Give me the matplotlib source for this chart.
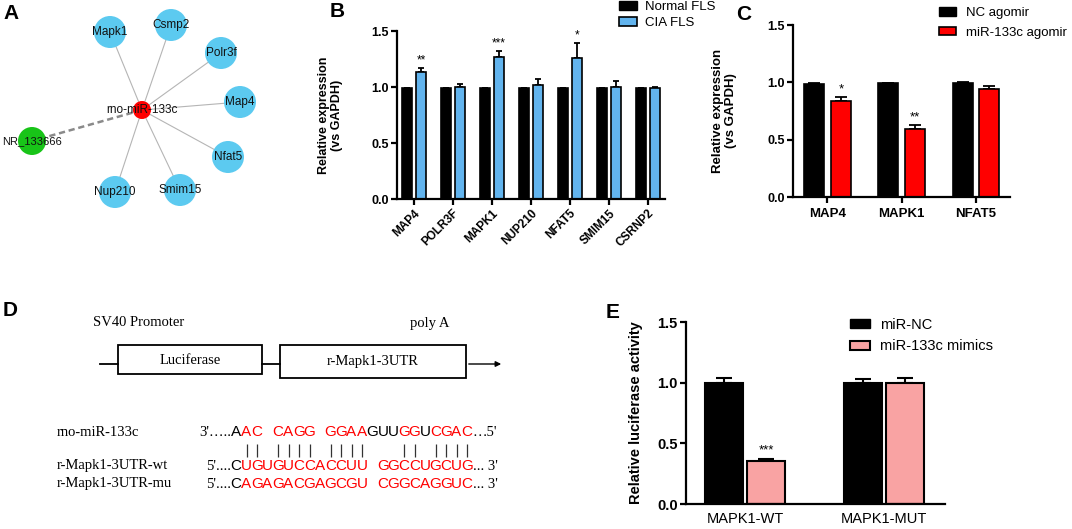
import numpy as np
import matplotlib.pyplot as plt
from matplotlib.patches import Circle, Rectangle, Patch
from matplotlib.ticker import FormatStrFormatter

plt.rcParams['font.family'] = ['Liberation Sans', 'DejaVu Sans']

# ---- panel A: network ----
hub_name = "rno-miR-133c"
lnc_name = "NR_133666"
targets = ["Mapk1", "Csmp2", "Polr3f", "Map4", "Nfat5", "Smim15", "Nup210"]
target_x = [110, 171, 221, 240, 228, 180, 115]
target_y = [32, 25, 53, 102, 157, 190, 192]
hub_xy = (142, 110)
lnc_xy = (32, 141)

# ---- panel B ----
b_genes = ["MAP4", "POLR3F", "MAPK1", "NUP210", "NFAT5", "SMIM15", "CSRNP2"]
b_normal = [0.99, 0.99, 0.99, 0.99, 0.99, 0.99, 0.99]
b_normal_err = [0.005, 0.005, 0.005, 0.005, 0.005, 0.005, 0.005]
b_cia = [1.13, 1.00, 1.27, 1.02, 1.26, 1.00, 0.99]
b_cia_err = [0.04, 0.03, 0.05, 0.05, 0.13, 0.05, 0.01]
b_stars = ["**", "", "***", "", "*", "", ""]

# ---- panel C ----
c_genes = ["MAP4", "MAPK1", "NFAT5"]
c_nc = [0.985, 0.99, 0.995]
c_nc_err = [0.005, 0.005, 0.005]
c_ago = [0.835, 0.595, 0.945]
c_ago_err = [0.035, 0.035, 0.025]
c_stars = ["*", "**", ""]

# ---- panel D: sequences ----
mir_seq = "AAC CAGG GGAAGUUGGUCGAC"
mir_black = [0, 13, 14, 15, 18]
wt_seq = "CUGUGUCCACCUU GGCCUGCUG"
mu_seq = "CAGAGACGAGCGU CGGCAGGUC"
pair_slots = [1, 2, 4, 5, 6, 7, 9, 10, 11, 12, 16, 17, 19, 20, 21, 22]

# ---- panel E ----
e_groups = ["MAPK1-WT", "MAPK1-MUT"]
e_nc = [1.0, 1.0]
e_nc_err = [0.04, 0.03]
e_mim = [0.355, 1.0]
e_mim_err = [0.02, 0.04]
e_stars = ["***", ""]

W, H = 1072, 529
fig = plt.figure(figsize=(W / 100, H / 100), dpi=100)

ov = fig.add_axes([0, 0, 1, 1])
ov.set_xlim(0, W)
ov.set_ylim(H, 0)
ov.axis('off')


def px_rect(left, top, right, bottom):
    return [left / W, 1 - bottom / H, (right - left) / W, (bottom - top) / H]


# panel letters
for lab, x, y in [("A", 3, 4), ("B", 330, 2), ("C", 736, 5), ("D", 3, 301), ("E", 606, 303)]:
    ov.text(x, y, lab, fontsize=15, fontweight='bold', ha='left', va='top')

# ---- A ----
for x, y in zip(target_x, target_y):
    ov.plot([hub_xy[0], x], [hub_xy[1], y], color='#b5b5b5', lw=0.8, zorder=1)
ov.plot([hub_xy[0], lnc_xy[0]], [hub_xy[1], lnc_xy[1]], color='#8a8a8a', lw=1.8,
        dashes=(2.5, 1.5), zorder=1)
for x, y, name in zip(target_x, target_y, targets):
    ov.add_patch(Circle((x, y), 16, facecolor='#5ccaf0', edgecolor='none', zorder=2))
    ov.text(x, y, name, fontsize=8.5, ha='center', va='center', color='#111', zorder=3)
ov.add_patch(Circle(lnc_xy, 14, facecolor='#18c418', edgecolor='none', zorder=2))
ov.text(lnc_xy[0], lnc_xy[1], lnc_name, fontsize=8, ha='center', va='center', color='#111', zorder=3)
ov.add_patch(Circle(hub_xy, 9, facecolor='#ff0000', edgecolor='none', zorder=2))
ov.text(hub_xy[0], hub_xy[1], hub_name, fontsize=8.5, ha='center', va='center', color='#111', zorder=3)


def style(ax, fs=9):
    ax.patch.set_alpha(0)
    for s in ['top', 'right']:
        ax.spines[s].set_visible(False)
    for s in ['left', 'bottom']:
        ax.spines[s].set_linewidth(1.6)
    ax.set_ylim(0, 1.5)
    ax.set_yticks([0, 0.5, 1.0, 1.5])
    ax.yaxis.set_major_formatter(FormatStrFormatter('%.1f'))
    ax.tick_params(width=1.6, length=4, labelsize=fs, pad=2)
    for t in ax.get_yticklabels():
        t.set_fontweight('bold')


# ---- B ----
axb = fig.add_axes(px_rect(397, 31, 665, 199))
style(axb)
xb = np.arange(len(b_genes))
bw, off = 0.25, 0.185
axb.bar(xb - off, b_normal, bw, color='black', edgecolor='black', lw=1.2, zorder=2)
axb.bar(xb + off, b_cia, bw, color='#62b4ee', edgecolor='black', lw=1.2, zorder=2)
axb.errorbar(xb - off, b_normal, yerr=[np.zeros(len(xb)), b_normal_err], fmt='none',
             ecolor='black', elinewidth=1.3, capsize=2.5, capthick=1.3, zorder=1)
axb.errorbar(xb + off, b_cia, yerr=[np.zeros(len(xb)), b_cia_err], fmt='none',
             ecolor='black', elinewidth=1.3, capsize=2.5, capthick=1.3, zorder=1)
for i, s in enumerate(b_stars):
    if s:
        axb.text(xb[i] + off, b_cia[i] + b_cia_err[i] + 0.015, s, ha='center', va='bottom', fontsize=8.5)
axb.set_xlim(-0.436, 6.44)
axb.set_xticks(xb)
axb.set_xticklabels(b_genes, rotation=45, ha='right', rotation_mode='anchor',
                    fontsize=8.5, fontweight='bold')
axb.set_ylabel("Relative expression\n(vs GAPDH)", fontsize=9, fontweight='bold', linespacing=1.1)
axb.yaxis.set_label_coords(-0.2, 0.5)
axb.legend(handles=[Patch(facecolor='black', edgecolor='black'),
                    Patch(facecolor='#62b4ee', edgecolor='black', lw=1.2)],
           labels=["Normal FLS", "CIA FLS"], loc='upper left',
           bbox_to_anchor=(619 / W, 1 - 1 / H), bbox_transform=fig.transFigure,
           frameon=False, fontsize=9.5, handlelength=1.4, handleheight=0.7,
           handletextpad=0.6, labelspacing=0.25, borderpad=0, borderaxespad=0)

# ---- C ----
axc = fig.add_axes(px_rect(793, 25, 1010, 197))
style(axc)
xc = np.arange(len(c_genes))
cw, coff = 0.27, 0.18
axc.bar(xc - coff, c_nc, cw, color='black', edgecolor='black', lw=1.2, zorder=2)
axc.bar(xc + coff, c_ago, cw, color='#ff0000', edgecolor='black', lw=1.2, zorder=2)
axc.errorbar(xc - coff, c_nc, yerr=[np.zeros(len(xc)), c_nc_err], fmt='none',
             ecolor='black', elinewidth=1.3, capsize=4.5, capthick=1.3, zorder=1)
axc.errorbar(xc + coff, c_ago, yerr=[np.zeros(len(xc)), c_ago_err], fmt='none',
             ecolor='black', elinewidth=1.3, capsize=4.5, capthick=1.3, zorder=1)
for i, s in enumerate(c_stars):
    if s:
        axc.text(xc[i] + coff, c_ago[i] + c_ago_err[i] + 0.015, s, ha='center', va='bottom', fontsize=9.5)
axc.set_xlim(-0.465, 2.46)
axc.set_xticks(xc)
axc.set_xticklabels(c_genes, fontsize=9.5, fontweight='bold')
axc.tick_params(axis='x', pad=4)
axc.set_ylabel("Relative expression\n(vs GAPDH)", fontsize=9.5, fontweight='bold', linespacing=1.1)
axc.yaxis.set_label_coords(-0.26, 0.5)
axc.legend(handles=[Patch(facecolor='black', edgecolor='black'),
                    Patch(facecolor='#ff0000', edgecolor='black', lw=1.2)],
           labels=["NC agomir", "miR-133c agomir"], loc='upper left',
           bbox_to_anchor=(939 / W, 1 - 7 / H), bbox_transform=fig.transFigure,
           frameon=False, fontsize=9.5, handlelength=1.3, handleheight=0.6,
           handletextpad=0.75, labelspacing=0.6, borderpad=0, borderaxespad=0)

# ---- D ----
serif = ['Liberation Serif', 'DejaVu Serif']
ov.text(93, 323, "SV40 Promoter", family=serif, fontsize=10.5, ha='left', va='center')
ov.text(430, 323, "poly A", family=serif, fontsize=10.5, ha='center', va='center')
ov.plot([100, 118], [364, 364], color='black', lw=1.3)
ov.add_patch(Rectangle((118, 345), 144, 29, facecolor='white', edgecolor='black', lw=1.3))
ov.plot([262, 280], [364, 364], color='black', lw=1.3)
ov.add_patch(Rectangle((280, 345), 186, 33, facecolor='white', edgecolor='black', lw=1.3))
ov.annotate("", xy=(504, 364), xytext=(466, 364),
            arrowprops=dict(arrowstyle='-|>', color='black', lw=1.0, mutation_scale=8))
ov.text(190, 360, "Luciferase", family=serif, fontsize=10.5, ha='center', va='center')
ov.text(373, 362, "r-Mapk1-3UTR", family=serif, fontsize=10.5, ha='center', va='center')

slot0, pitch = 236, 10.5
rows = [("rno-miR-133c", "3'…..", mir_seq, "…5'", 432),
        ("r-Mapk1-3UTR-wt", "5'....", wt_seq, "... 3'", 466),
        ("r-Mapk1-3UTR-mu", "5'....", mu_seq, "... 3'", 484)]
for r, (name, pre, seq, post, y) in enumerate(rows):
    ov.text(57, y, name, family=serif, fontsize=10.5, ha='left', va='center')
    ov.text(slot0 - 5, y, pre, family=serif, fontsize=10.5, ha='right', va='center')
    for i, ch in enumerate(seq):
        if ch == ' ':
            continue
        if r == 0:
            col = 'black' if i in mir_black else '#ff0000'
        else:
            col = 'black' if i == 0 else '#ff0000'
        ov.text(slot0 + i * pitch, y, ch, fontsize=11, ha='center', va='center', color=col)
    ov.text(slot0 + (len(seq) - 1) * pitch + 6, y, post, family=serif, fontsize=10.5,
            ha='left', va='center')
ov.vlines([slot0 + s * pitch for s in pair_slots], 444, 457, color='#333', lw=0.9)

# ---- E ----
axe = fig.add_axes(px_rect(686, 322, 945, 504))
style(axe, fs=10.5)
xe = np.arange(len(e_groups))
ew, eoff = 0.27, 0.152
axe.bar(xe - eoff, e_nc, ew, color='black', edgecolor='black', lw=1.5, zorder=2)
axe.bar(xe + eoff, e_mim, ew, color='#f9a3a3', edgecolor='black', lw=1.5, zorder=2)
axe.errorbar(xe - eoff, e_nc, yerr=[np.zeros(len(xe)), e_nc_err], fmt='none',
             ecolor='black', elinewidth=1.5, capsize=6, capthick=1.5, zorder=1)
axe.errorbar(xe + eoff, e_mim, yerr=[np.zeros(len(xe)), e_mim_err], fmt='none',
             ecolor='black', elinewidth=1.5, capsize=6, capthick=1.5, zorder=1)
for i, s in enumerate(e_stars):
    if s:
        axe.text(xe[i] + eoff, e_mim[i] + e_mim_err[i] + 0.015, s, ha='center', va='bottom', fontsize=9.5)
axe.set_xlim(-0.424, 1.44)
axe.set_xticks(xe)
axe.set_xticklabels(e_groups, fontsize=10.5)
axe.tick_params(axis='x', length=0, pad=6)
axe.set_ylabel("Relative luciferase activity", fontsize=10.5, fontweight='bold')
axe.yaxis.set_label_coords(-0.166, 0.5)
axe.legend(handles=[Patch(facecolor='black', edgecolor='black'),
                    Patch(facecolor='#f9a3a3', edgecolor='black', lw=1.5)],
           labels=["miR-NC", "miR-133c mimics"], loc='upper left',
           bbox_to_anchor=(850 / W, 1 - 318 / H), bbox_transform=fig.transFigure,
           frameon=False, fontsize=10.5, handlelength=1.35, handleheight=0.6,
           handletextpad=0.7, labelspacing=0.5, borderpad=0, borderaxespad=0)

fig.savefig("out.png", dpi=100)
